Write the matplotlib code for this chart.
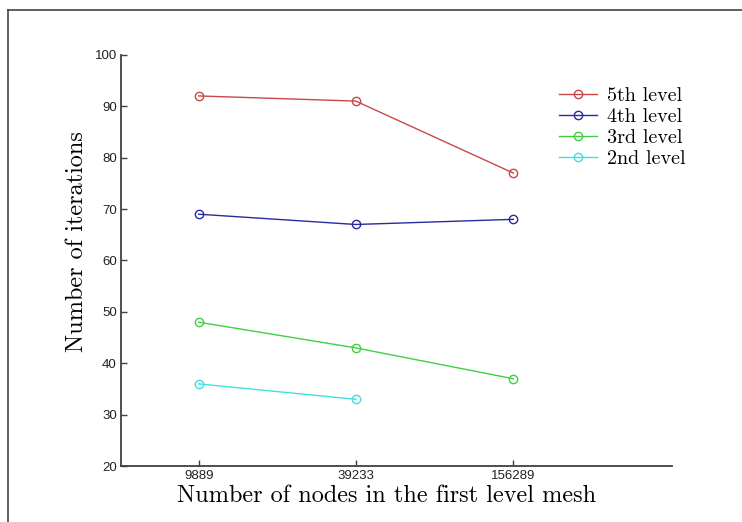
import matplotlib
matplotlib.use("Agg")
import matplotlib.pyplot as plt
from matplotlib.lines import Line2D

# data
nodes = [9889, 39233, 156289]
level5 = [92, 91, 77]
level4 = [69, 67, 68]
level3 = [48, 43, 37]
level2 = [36, 33]
labels = ["5th level", "4th level", "3rd level", "2nd level"]
colors = ["#c84848", "#2a2aa0", "#40d040", "#40e0e0"]

fig = plt.figure(figsize=(7.42, 5.22), dpi=100)
ax = fig.add_axes([0.163, 0.107, 0.743, 0.788])

series = [level5, level4, level3, level2]
for vals, lab, col in zip(series, labels, colors):
    ax.plot(nodes[:len(vals)], vals, "-o", color=col, label=lab,
            markerfacecolor="none", markeredgecolor=col, markersize=6,
            linewidth=1.0, markeredgewidth=1.0)

ax.set_xscale("log")
ax.set_xlim(5000, 630000)
ax.set_ylim(20, 100)
ax.set_xticks(nodes)
ax.set_xticklabels([str(n) for n in nodes])
ax.minorticks_off()
ax.set_yticks(range(20, 101, 10))

for s in ["top", "right"]:
    ax.spines[s].set_visible(False)
for s in ["left", "bottom"]:
    ax.spines[s].set_color("#404040")
    ax.spines[s].set_linewidth(1.3)

ax.tick_params(direction="in", length=4, width=1, color="#404040",
               labelsize=9.5, labelcolor="#222222", pad=3)
for t in ax.get_xticklabels() + ax.get_yticklabels():
    t.set_family("Liberation Sans")

ax.set_xlabel("Number of nodes in the first level mesh",
              family="cmr10", fontsize=17.5, labelpad=2)
ax.xaxis.label.set_x(0.481)
ax.set_ylabel("Number of iterations", family="cmr10", fontsize=17.5,
              labelpad=5)
ax.yaxis.label.set_y(0.545)

leg = ax.legend(loc="upper right", bbox_to_anchor=(1.058, 0.965),
                frameon=False, prop={"family": "cmr10", "size": 14.5},
                handlelength=1.9, handletextpad=0.5, labelspacing=0.13)

# outer frame (left and top edges of the original figure box)
fig.add_artist(Line2D([8 / 742, 8 / 742], [0, 1 - 10 / 522],
                      transform=fig.transFigure, color="#444444", lw=1.2))
fig.add_artist(Line2D([8 / 742, 1], [1 - 10 / 522, 1 - 10 / 522],
                      transform=fig.transFigure, color="#444444", lw=1.2))

fig.savefig("out.png", dpi=100)
